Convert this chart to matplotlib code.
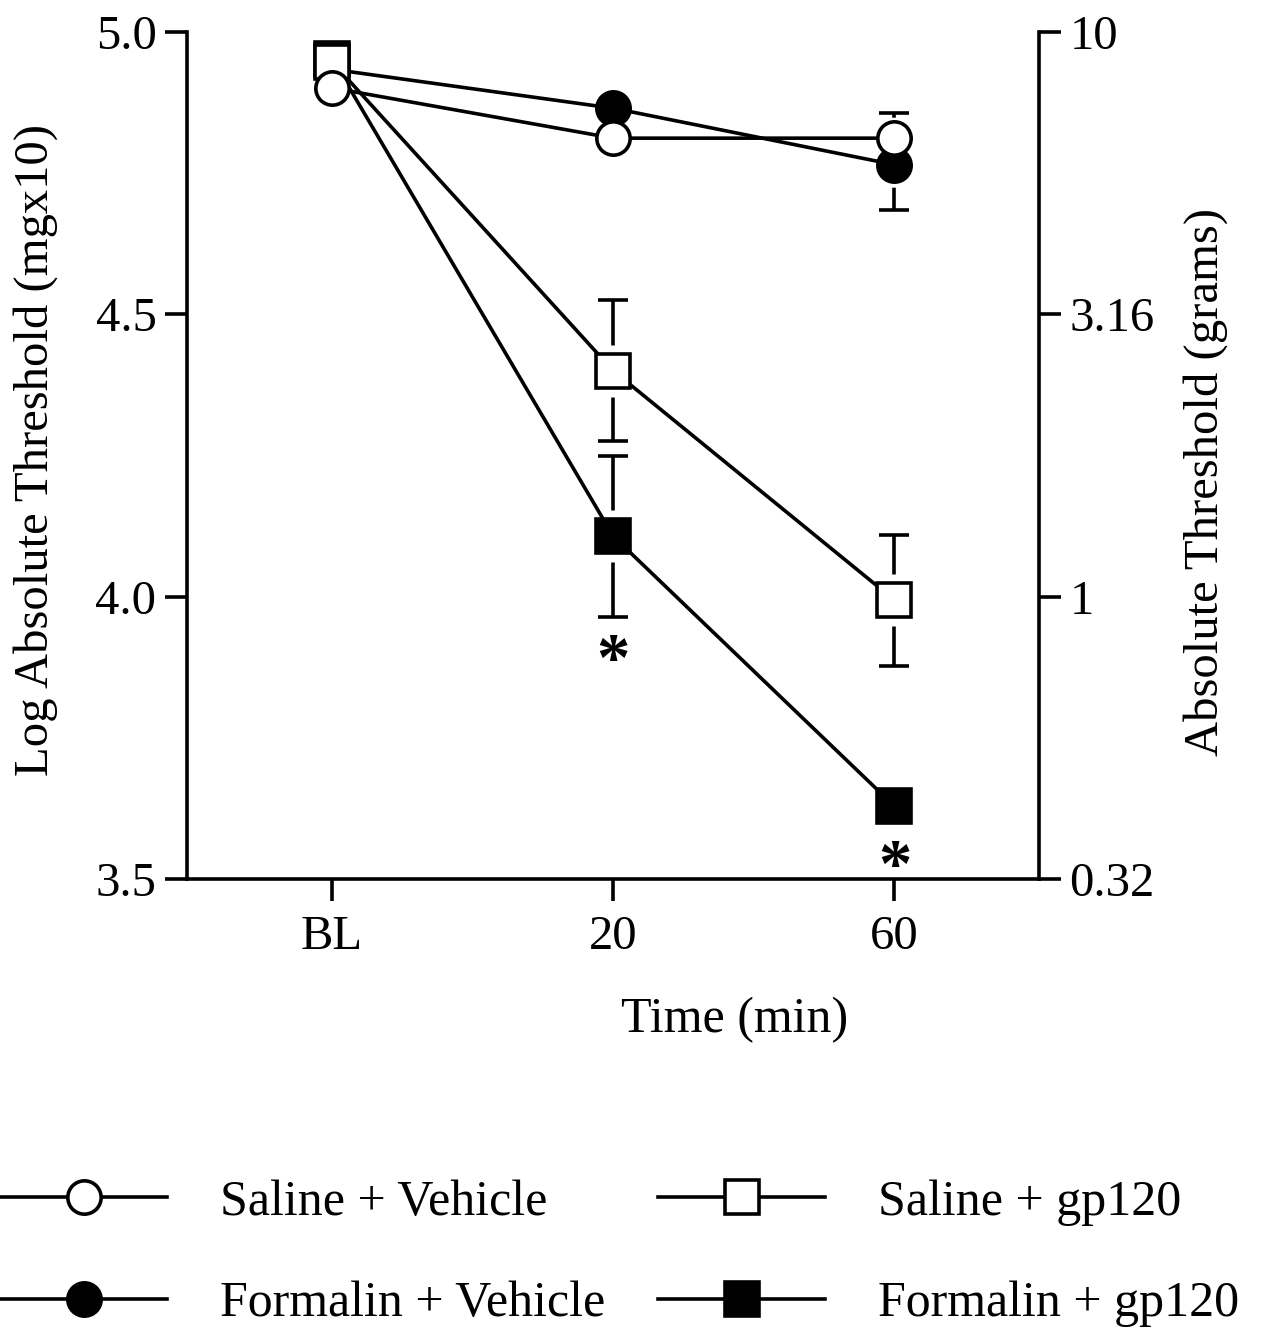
import matplotlib
matplotlib.use("Agg")
import matplotlib.pyplot as plt
import numpy as np

plt.rcParams['font.family'] = ['Liberation Serif', 'DejaVu Serif']

# ---- data ----
time_labels = ['BL', '20', '60']
series_names = ['Saline + Vehicle', 'Formalin + Vehicle', 'Saline + gp120', 'Formalin + gp120']
saline_vehicle = [4.901, 4.812, 4.812]
formalin_vehicle = [4.934, 4.865, 4.765]
saline_gp120 = [4.947, 4.400, 3.994]
formalin_gp120 = [4.953, 4.107, 3.629]
# error bars (lower, upper)
saline_vehicle_err_lo = [0.0, 0.0, 0.0]
saline_vehicle_err_hi = [0.0, 0.0, 0.044]
formalin_vehicle_err_lo = [0.0, 0.0, 0.080]
formalin_vehicle_err_hi = [0.0, 0.0, 0.0]
saline_gp120_err = [0.0, 0.125, 0.116]
formalin_gp120_err = [0.0, 0.143, 0.0]
left_ticks = [3.5, 4.0, 4.5, 5.0]
left_tick_labels = ['3.5', '4.0', '4.5', '5.0']
right_tick_labels = ['0.32', '1', '3.16', '10']
sig_x = [1, 2]
sig_y = [3.884, 3.519]

W, H = 1266, 1330
fig = plt.figure(figsize=(W / 100, H / 100), dpi=100)
ax = fig.add_axes([187 / W, 1 - 879 / H, (1039 - 187) / W, (879 - 32) / H])

x = np.arange(len(time_labels))
lw = 2.6
ms = 24
FS = 35

# error bars
eb = dict(fmt='none', ecolor='black', elinewidth=lw, capsize=10.5, capthick=lw, zorder=2)
ax.errorbar(x, formalin_vehicle, yerr=[formalin_vehicle_err_lo, formalin_vehicle_err_hi], **eb)
ax.errorbar(x, saline_vehicle, yerr=[saline_vehicle_err_lo, saline_vehicle_err_hi], **eb)
ax.errorbar(x, saline_gp120, yerr=saline_gp120_err, **eb)
ax.errorbar(x, formalin_gp120, yerr=formalin_gp120_err, **eb)

# white halos (gap between error bar and marker)
for yv, mk, extra in [(formalin_vehicle, 'o', 8), (saline_vehicle, 'o', 6),
                      (saline_gp120, 's', 14), (formalin_gp120, 's', 14)]:
    ax.plot(x, yv, linestyle='none', marker=mk, markersize=ms + extra, markerfacecolor='white',
            markeredgecolor='none', zorder=2.5)

h_fv, = ax.plot(x, formalin_vehicle, '-', color='black', lw=lw, marker='o', ms=ms,
                mfc='black', mec='black', mew=lw, zorder=3.0, label=series_names[1])
h_fg, = ax.plot(x, formalin_gp120, '-', color='black', lw=lw, marker='s', ms=ms,
                mfc='black', mec='black', mew=lw, zorder=3.1, label=series_names[3])
h_sg, = ax.plot(x, saline_gp120, '-', color='black', lw=lw, marker='s', ms=ms,
                mfc='white', mec='black', mew=lw, zorder=3.2, label=series_names[2])
h_sv, = ax.plot(x, saline_vehicle, '-', color='black', lw=lw, marker='o', ms=ms,
                mfc='white', mec='black', mew=lw, zorder=3.3, label=series_names[0])

for sx, sy in zip(sig_x, sig_y):
    ax.text(sx, sy, '*', ha='center', va='center', fontsize=48, fontweight='bold', zorder=4)

ax.set_xlim(-0.516, 2.514)
ax.set_ylim(3.5, 5.0)
ax.set_xticks(x, time_labels)
ax.set_yticks(left_ticks, left_tick_labels)
for s in ['top', 'right']:
    ax.spines[s].set_visible(False)
for s in ['left', 'bottom']:
    ax.spines[s].set_linewidth(lw)
ax.tick_params(axis='both', direction='out', length=16, width=lw, labelsize=FS, color='black')
ax.tick_params(axis='y', pad=6)
ax.tick_params(axis='x', pad=10)

ax2 = ax.twinx()
ax2.set_ylim(3.5, 5.0)
ax2.set_yticks(left_ticks, right_tick_labels)
for s in ['top', 'left', 'bottom']:
    ax2.spines[s].set_visible(False)
ax2.spines['right'].set_linewidth(lw)
ax2.tick_params(axis='y', direction='out', length=16, width=lw, labelsize=FS, pad=6)

ax.set_xlabel('Time (min)', fontsize=36)
ax.xaxis.set_label_coords(0.643, -0.1665)
ax.xaxis.label.set_va('center')
ax.set_ylabel('Log Absolute Threshold (mgx10)', fontsize=FS)
ax.yaxis.set_label_coords(-0.178, 0.5065)
ax.yaxis.label.set_va('center')
ax2.set_ylabel('Absolute Threshold (grams)', fontsize=FS, rotation=90)
ax2.yaxis.set_label_coords(1.195, 0.469)
ax2.yaxis.label.set_va('center')

fig.legend(handles=[h_sv, h_fv, h_sg, h_fg], ncol=2, loc='upper left',
           bbox_to_anchor=(0.0, 1 - 1179 / H), frameon=False, fontsize=36,
           handlelength=3.34, handletextpad=1.06, columnspacing=1.06,
           labelspacing=1.10, borderpad=0, borderaxespad=0, numpoints=1)

fig.savefig('out.png', dpi=100)
